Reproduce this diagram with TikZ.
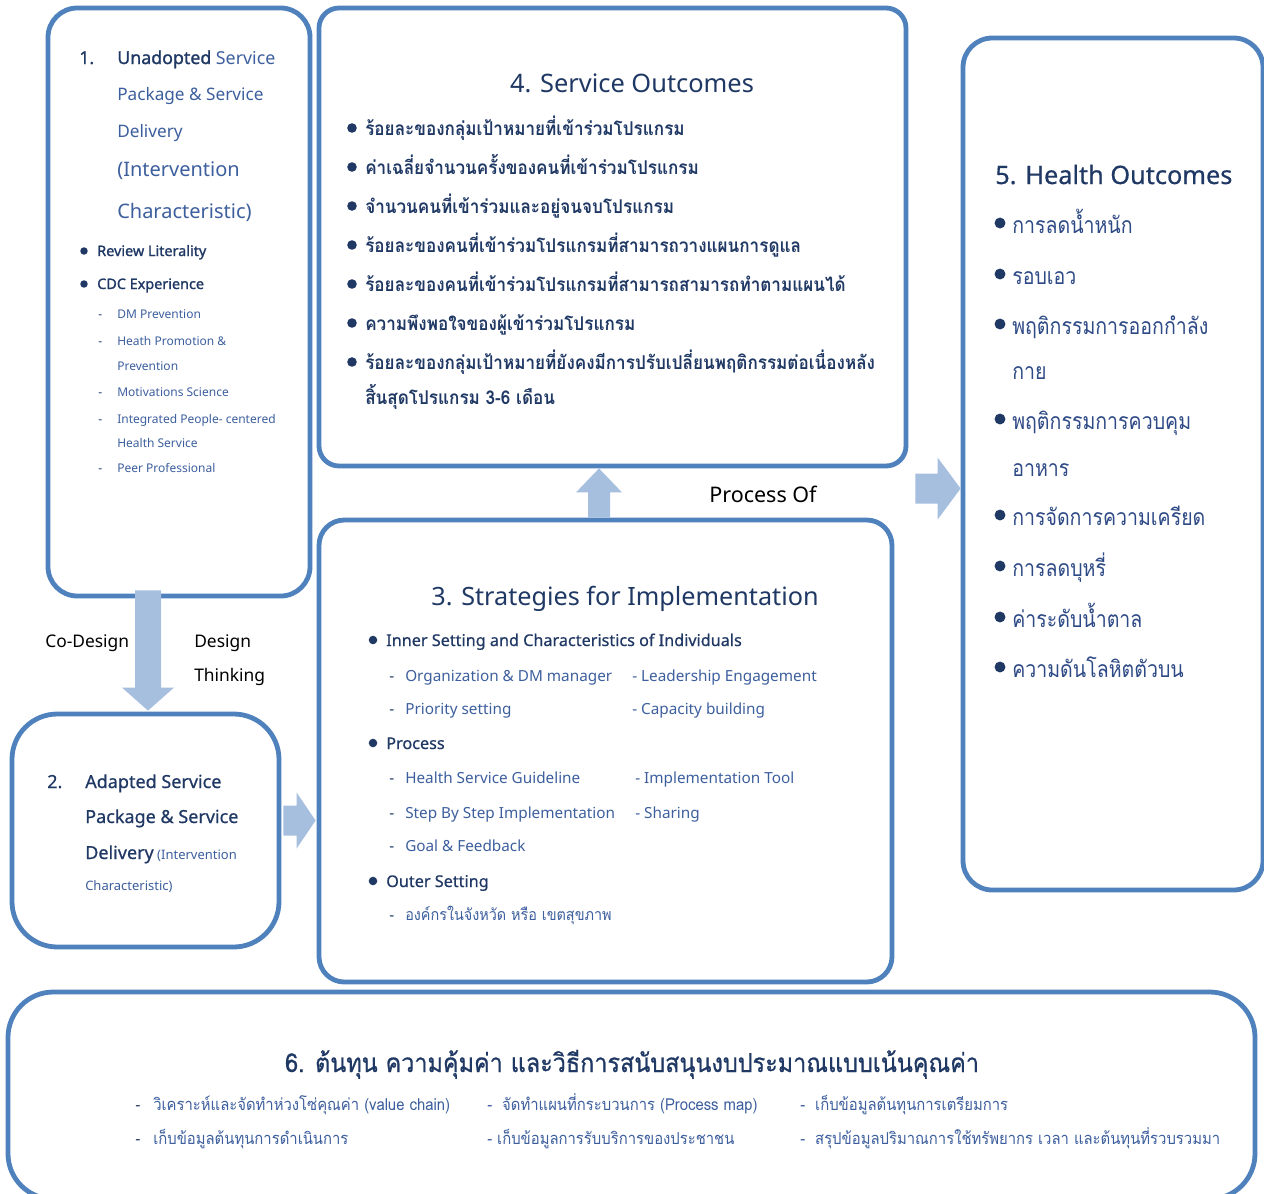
\documentclass[tikz,border=0pt]{standalone}
\usepackage{fontspec}
\setmainfont{Noto Sans}
\newfontfamily\semib{Noto Sans}[FakeBold=1.3]
\newfontfamily\medw{Noto Sans}[FakeBold=0.6]
\newfontfamily\thai[Script=Thai,FakeStretch=0.9]{Loma}
\newfontfamily\thaim[Script=Thai,FakeStretch=0.9,FakeBold=0.7]{Loma}
\newfontfamily\thaiq[Script=Thai,FakeStretch=0.85]{Loma}
\usetikzlibrary{fit,calc}
\newcommand\px[1]{\fontsize{\fpeval{#1*0.75}pt}{\fpeval{#1*0.9}pt}\selectfont}
\definecolor{bord}{HTML}{4F81BD}
\definecolor{afill}{HTML}{A7BFDE}
\definecolor{dk}{HTML}{1F3864}
\definecolor{md}{HTML}{2E4A86}
\definecolor{lt}{HTML}{3D5F9E}
\tikzset{
  box/.style={draw=bord, line width=3.6pt, inner sep=0pt},
  txt/.style={inner sep=0pt, anchor=base west},
  ctxt/.style={inner sep=0pt, anchor=base},
  arr/.style={fill=afill, draw=none},
  bul/.style={fill=dk, draw=none}
}
\begin{document}
\begin{tikzpicture}[x=0.75pt,y=-0.75pt]
\fill[white] (0,0) rectangle (1264,1193);
\useasboundingbox (0,0) rectangle (1264,1193);

% boxes
\node[box, rounded corners=22pt, fit={(48,8) (310,596)}] (b1) {};
\node[box, rounded corners=15pt, fit={(319,8) (906,466)}] (b4) {};
\node[box, rounded corners=22pt, fit={(963,38) (1263,890)}] (b5) {};
\node[box, rounded corners=34pt, fit={(12,714) (279,947)}] (b2) {};
\node[box, rounded corners=19pt, fit={(319,520) (892,982)}] (b3) {};
\node[box, rounded corners=34pt, fit={(8,992) (1255,1199)}] (b6) {};

% block arrows
\coordinate (dtip) at ($(b2.north)+(2.5,-1)$);
\coordinate (dtop) at ($(dtip |- b1.south)+(0,-8)$);
\fill[arr] ($(dtop)+(-13,0)$) -- ($(dtop)+(13,0)$) -- ($(dtip)+(13,-23)$) -- ($(dtip)+(26,-23)$)
  -- (dtip) -- ($(dtip)+(-26,-23)$) -- ($(dtip)+(-13,-23)$) -- cycle;

\coordinate (rtip) at ($(b3.west |- b2.east)+(-1,-10)$);
\coordinate (rst) at ($(b2.east)+(2,-10)$);
\fill[arr] ($(rst)+(0,-15)$) -- ($(rtip)+(-19,-15)$) -- ($(rtip)+(-19,-28)$) -- (rtip)
  -- ($(rtip)+(-19,28)$) -- ($(rtip)+(-19,15)$) -- ($(rst)+(0,15)$) -- cycle;

\coordinate (utip) at ($(b4.south)+(-13.5,0)$);
\coordinate (ust) at (utip |- b3.north);
\fill[arr] ($(ust)+(-11,0)$) -- ($(utip)+(-11,24)$) -- ($(utip)+(-23,24)$) -- (utip)
  -- ($(utip)+(23,24)$) -- ($(utip)+(11,24)$) -- ($(ust)+(11,0)$) -- cycle;

\coordinate (r2tip) at ($(b5.west)+(0,24.5)$);
\coordinate (r2st) at ($(b4.east |- r2tip)+(7,0)$);
\fill[arr] ($(r2st)+(0,-15)$) -- ($(r2tip)+(-23,-15)$) -- ($(r2tip)+(-23,-31)$) -- (r2tip)
  -- ($(r2tip)+(-23,31)$) -- ($(r2tip)+(-23,15)$) -- ($(r2st)+(0,15)$) -- cycle;

% ---------- Box 1 ----------
\node[txt, text=dk] (b1n) at (79,64) {\medw\px{17.8}1.};
\node[txt] (b1l1) at (117,64) {\px{17.8}\textcolor{dk}{\semib Unadopted} \textcolor{lt}{Service}};
\node[txt, text=lt] (b1l2) at (117,100) {\px{17.2}Package \& Service};
\node[txt, text=lt] (b1l3) at (117,137) {\px{17.2}Delivery};
\node[txt, text=lt] (b1l4) at (117,176) {\px{20}(Intervention};
\node[txt, text=lt] (b1l5) at (117,218) {\px{20}Characteristic)};
\fill[bul] (84,251) circle (2.8pt);
\fill[bul] (84,284) circle (2.8pt);
\node[txt, text=dk] (b1b1) at (97,256) {\semib\px{14.4}Review Literality};
\node[txt, text=dk] (b1b2) at (97,289) {\semib\px{14.4}CDC Experience};
\foreach \yy/\tt [count=\i] in {318/DM Prevention, 345/Heath Promotion \&, 396/Motivations Science, 423/Integrated People- centered, 472/Peer Professional}{
  \node[txt, text=dk] (b1d\i) at (98,\yy) {\px{12}-};
  \node[txt, text=lt] (b1s\i) at (117,\yy) {\px{12}\tt};
}
\node[txt, text=lt] (b1s6) at (117,370) {\px{12}Prevention};
\node[txt, text=lt] (b1s7) at (117,447) {\px{12}Health Service};

% ---------- Box 4 ----------
\node[ctxt, text=dk] (b4t) at (632,92) {\px{25.4}4. Service Outcomes};
\foreach \yy/\tt [count=\i] in {
  135/ร้อยละของกลุ่มเป้าหมายที่เข้าร่วมโปรแกรม,
  174/ค่าเฉลี่ยจำนวนครั้งของคนที่เข้าร่วมโปรแกรม,
  213/จำนวนคนที่เข้าร่วมและอยู่จนจบโปรแกรม,
  252/ร้อยละของคนที่เข้าร่วมโปรแกรมที่สามารถวางแผนการดูแล,
  291/ร้อยละของคนที่เข้าร่วมโปรแกรมที่สามารถสามารถทำตามแผนได้,
  330/ความพึงพอใจของผู้เข้าร่วมโปรแกรม,
  369/ร้อยละของกลุ่มเป้าหมายที่ยังคงมีการปรับเปลี่ยนพฤติกรรมต่อเนื่องหลัง}{
  \fill[bul] (352,\yy-7) circle (3.6pt);
  \node[txt, text=dk] (b4i\i) at (365,\yy) {\thai\bfseries\px{19}\tt};
}
\node[txt, text=dk] (b4i8) at (365,404) {\thai\bfseries\px{19}สิ้นสุดโปรแกรม 3-6 เดือน};

\node[txt] (procof) at (709,502) {\px{21.5}Process Of};

% ---------- Box 5 ----------
\node[txt, text=dk] (b5t) at (995,184) {\medw\px{25.3}5. Health Outcomes};
\foreach \yy/\tt [count=\i] in {233/การลดน้ำหนัก, 284/รอบเอว, 334/พฤติกรรมการออกกำลัง, 429/พฤติกรรมการควบคุม, 525/การจัดการความเครียด, 576/การลดบุหรี่, 627/ค่าระดับน้ำตาล, 677/ความดันโลหิตตัวบน}{
  \fill[bul] (1000,\yy-10) circle (4.1pt);
  \node[txt, text=md] (b5i\i) at (1012,\yy) {\thaiq\px{23}\tt};
}
\node[txt, text=md] (b5c1) at (1012,379) {\thaiq\px{23}กาย};
\node[txt, text=md] (b5c2) at (1012,476) {\thaiq\px{23}อาหาร};

% ---------- Box 2 ----------
\node[txt, text=dk] (b2n) at (47,788) {\medw\px{18}2.};
\node[txt, text=dk] (b2l1) at (85,788) {\medw\px{18}Adapted Service};
\node[txt, text=dk] (b2l2) at (85,823) {\medw\px{18}Package \& Service};
\node[txt] (b2l3) at (85,859) {\textcolor{dk}{\medw\px{18}Delivery} \textcolor{lt}{\px{13}(Intervention}};
\node[txt, text=lt] (b2l4) at (85,890) {\px{13}Characteristic)};

\node[txt] (codes) at (45,647) {\px{17.4}Co-Design};
\node[txt] (des) at (194,647) {\px{17.4}Design};
\node[txt] (thk) at (194,681) {\px{17.4}Thinking};

% ---------- Box 3 ----------
\node[ctxt, text=dk] (b3t) at (625,605) {\px{25.2}3. Strategies for Implementation};
\foreach \yy/\tt [count=\i] in {646/Inner Setting and Characteristics of Individuals, 749/Process, 887/Outer Setting}{
  \fill[bul] (373,\yy-6) circle (3.2pt);
  \node[txt, text=dk] (b3b\i) at (386,\yy) {\medw\px{16.2}\tt};
}
\foreach \yy/\tt [count=\i] in {681/Organization \& DM manager, 714/Priority setting, 783/Health Service Guideline, 818/Step By Step Implementation, 851/Goal \& Feedback}{
  \node[txt, text=dk] (b3d\i) at (389,\yy) {\px{15.3}-};
  \node[txt, text=lt] (b3s\i) at (405,\yy) {\px{15.3}\tt};
}
\node[txt, text=dk] (b3d6) at (389,920) {\px{15.3}-};
\node[txt, text=lt] (b3s6) at (405,920) {\thai\px{16}องค์กรในจังหวัด หรือ เขตสุขภาพ};
\node[txt, text=lt] (b3r1) at (632,681) {\px{15.3}- Leadership Engagement};
\node[txt, text=lt] (b3r2) at (632,714) {\px{15.3}- Capacity building};
\node[txt, text=lt] (b3r3) at (635,783) {\px{15.3}- Implementation Tool};
\node[txt, text=lt] (b3r4) at (635,818) {\px{15.3}- Sharing};

% ---------- Box 6 ----------
\node[ctxt, text=dk] (b6t) at (632,1072) {\thaim\px{26}6. ต้นทุน ความคุ้มค่า และวิธีการสนับสนุนงบประมาณแบบเน้นคุณค่า};
\node[txt, text=dk] (b6d1) at (135,1110) {\px{16}-};
\node[txt, text=dk] (b6d2) at (135,1144) {\px{16}-};
\node[txt, text=lt] (b6a1) at (153,1110) {\thai\px{16.5}วิเคราะห์และจัดทำห่วงโซ่คุณค่า (value chain)};
\node[txt, text=lt] (b6a2) at (153,1144) {\thai\px{16.5}เก็บข้อมูลต้นทุนการดำเนินการ};
\node[txt, text=lt] (b6b1) at (487,1110) {\thai\px{16.5}-\ \ จัดทำแผนที่กระบวนการ (Process map)};
\node[txt, text=lt] (b6b2) at (487,1144) {\thai\px{16.5}- เก็บข้อมูลการรับบริการของประชาชน};
\node[txt, text=lt] (b6c1) at (800,1110) {\thai\px{16.5}-\ \ เก็บข้อมูลต้นทุนการเตรียมการ};
\node[txt, text=lt] (b6c2) at (800,1144) {\thai\px{16.5}-\ \ สรุปข้อมูลปริมาณการใช้ทรัพยากร เวลา และต้นทุนที่รวบรวมมา};
\end{tikzpicture}
\end{document}
